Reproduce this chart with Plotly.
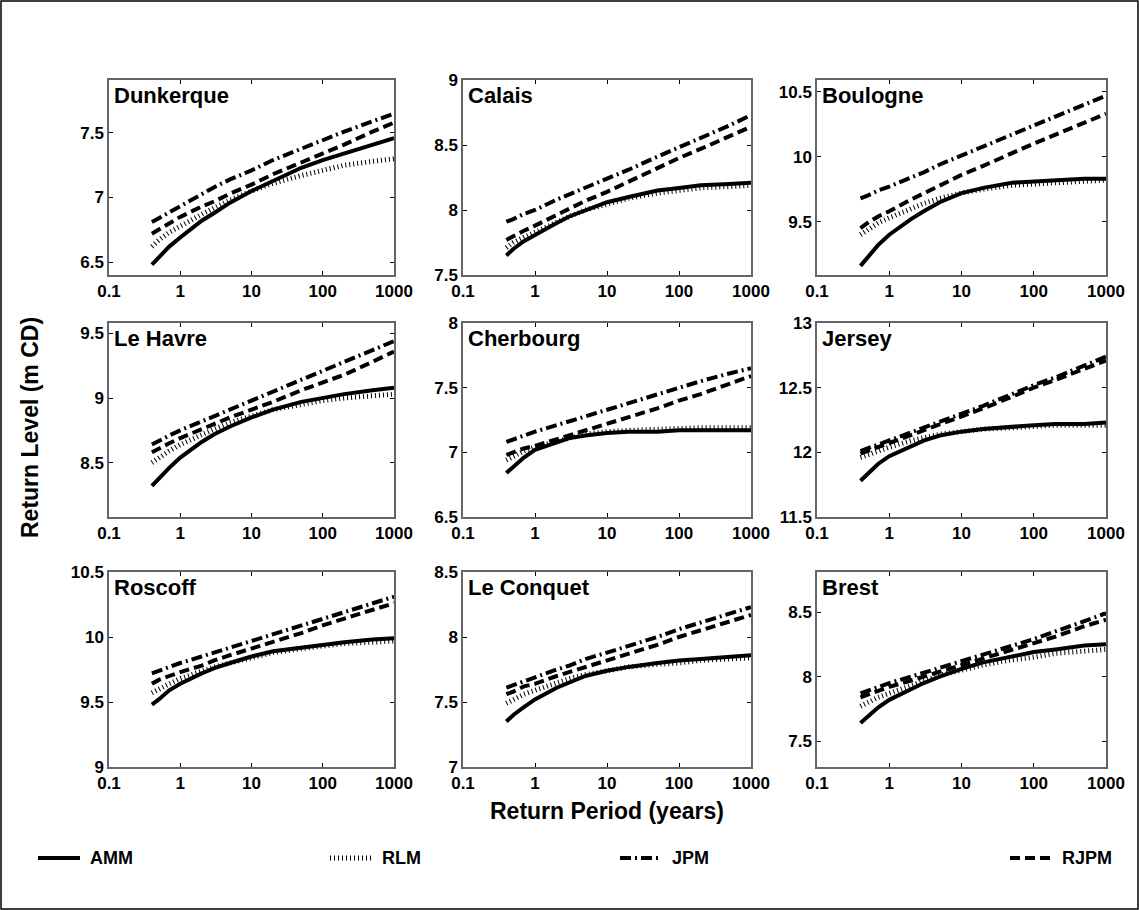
import plotly.graph_objects as go

# return periods (years) sampled along each curve
years = [0.4, 0.5, 0.7, 1, 2, 3, 5, 10, 20, 50, 100, 200, 500, 1000]

stations = ["Dunkerque", "Calais", "Boulogne",
            "Le Havre", "Cherbourg", "Jersey",
            "Roscoff", "Le Conquet", "Brest"]

y_ranges = [[6.4, 7.91], [7.5, 9.0], [9.09, 10.59],
            [8.08, 9.58], [6.5, 8.0], [11.5, 13.0],
            [9.0, 10.5], [7.0, 8.5], [7.3, 8.81]]

# one row per station, same order as `stations`
amm = [
    [6.48, 6.54, 6.62, 6.69, 6.82, 6.88, 6.96, 7.05, 7.13, 7.23, 7.29, 7.34, 7.41, 7.46],
    [7.65, 7.70, 7.76, 7.81, 7.90, 7.95, 8.00, 8.06, 8.10, 8.15, 8.17, 8.19, 8.20, 8.21],
    [9.16, 9.22, 9.32, 9.40, 9.52, 9.58, 9.65, 9.72, 9.76, 9.80, 9.81, 9.82, 9.83, 9.83],
    [8.32, 8.38, 8.46, 8.54, 8.66, 8.72, 8.78, 8.85, 8.91, 8.97, 9.00, 9.03, 9.06, 9.08],
    [6.84, 6.89, 6.96, 7.02, 7.08, 7.11, 7.13, 7.15, 7.16, 7.16, 7.17, 7.17, 7.17, 7.17],
    [11.78, 11.83, 11.91, 11.97, 12.05, 12.09, 12.13, 12.16, 12.18, 12.20, 12.21, 12.22, 12.22, 12.23],
    [9.48, 9.52, 9.59, 9.64, 9.72, 9.76, 9.80, 9.85, 9.89, 9.92, 9.94, 9.96, 9.98, 9.99],
    [7.35, 7.40, 7.46, 7.52, 7.61, 7.65, 7.70, 7.74, 7.77, 7.80, 7.82, 7.83, 7.85, 7.86],
    [7.64, 7.69, 7.76, 7.82, 7.90, 7.95, 8.00, 8.06, 8.11, 8.16, 8.19, 8.21, 8.24, 8.25],
]
rlm = [
    [6.62, 6.67, 6.73, 6.78, 6.87, 6.92, 6.98, 7.05, 7.11, 7.17, 7.21, 7.25, 7.28, 7.30],
    [7.71, 7.75, 7.79, 7.83, 7.91, 7.95, 8.00, 8.05, 8.09, 8.13, 8.15, 8.17, 8.18, 8.19],
    [9.40, 9.44, 9.49, 9.53, 9.60, 9.64, 9.68, 9.72, 9.75, 9.78, 9.79, 9.80, 9.81, 9.82],
    [8.50, 8.54, 8.59, 8.64, 8.72, 8.76, 8.81, 8.86, 8.91, 8.95, 8.98, 9.00, 9.02, 9.03],
    [6.94, 6.97, 7.01, 7.04, 7.09, 7.11, 7.14, 7.16, 7.17, 7.18, 7.18, 7.19, 7.19, 7.19],
    [11.96, 11.98, 12.01, 12.04, 12.09, 12.11, 12.14, 12.16, 12.18, 12.19, 12.20, 12.21, 12.21, 12.21],
    [9.57, 9.60, 9.64, 9.68, 9.74, 9.77, 9.80, 9.84, 9.88, 9.91, 9.93, 9.95, 9.96, 9.97],
    [7.49, 7.52, 7.56, 7.59, 7.65, 7.68, 7.71, 7.74, 7.77, 7.79, 7.80, 7.82, 7.83, 7.84],
    [7.77, 7.80, 7.84, 7.87, 7.93, 7.96, 8.01, 8.05, 8.09, 8.13, 8.15, 8.18, 8.20, 8.21],
]
jpm = [
    [6.81, 6.84, 6.89, 6.94, 7.03, 7.08, 7.14, 7.21, 7.29, 7.38, 7.45, 7.51, 7.59, 7.65],
    [7.91, 7.93, 7.97, 8.00, 8.08, 8.12, 8.17, 8.24, 8.31, 8.41, 8.48, 8.55, 8.65, 8.73],
    [9.68, 9.70, 9.74, 9.77, 9.84, 9.88, 9.94, 10.01, 10.08, 10.17, 10.24, 10.31, 10.40, 10.47],
    [8.64, 8.67, 8.71, 8.75, 8.82, 8.86, 8.91, 8.98, 9.05, 9.14, 9.21, 9.28, 9.37, 9.44],
    [7.08, 7.10, 7.13, 7.16, 7.21, 7.24, 7.28, 7.33, 7.38, 7.45, 7.50, 7.55, 7.61, 7.65],
    [12.01, 12.03, 12.06, 12.09, 12.15, 12.19, 12.24, 12.30, 12.36, 12.45, 12.52, 12.58, 12.67, 12.74],
    [9.72, 9.74, 9.77, 9.80, 9.85, 9.88, 9.92, 9.97, 10.02, 10.09, 10.14, 10.19, 10.26, 10.31],
    [7.61, 7.63, 7.66, 7.69, 7.75, 7.78, 7.83, 7.88, 7.93, 8.00, 8.06, 8.11, 8.18, 8.23],
    [7.87, 7.89, 7.92, 7.95, 8.00, 8.03, 8.07, 8.12, 8.17, 8.24, 8.29, 8.35, 8.43, 8.49],
]
rjpm = [
    [6.72, 6.75, 6.80, 6.85, 6.93, 6.97, 7.03, 7.10, 7.18, 7.27, 7.34, 7.41, 7.51, 7.58],
    [7.77, 7.80, 7.84, 7.88, 7.96, 8.01, 8.07, 8.14, 8.22, 8.32, 8.40, 8.47, 8.57, 8.64],
    [9.45, 9.49, 9.54, 9.58, 9.67, 9.72, 9.78, 9.86, 9.93, 10.03, 10.10, 10.17, 10.26, 10.33],
    [8.58, 8.61, 8.65, 8.69, 8.76, 8.80, 8.85, 8.91, 8.97, 9.06, 9.12, 9.18, 9.28, 9.36],
    [6.98, 7.00, 7.03, 7.05, 7.10, 7.13, 7.17, 7.22, 7.27, 7.34, 7.40, 7.45, 7.53, 7.59],
    [11.99, 12.01, 12.04, 12.07, 12.13, 12.17, 12.22, 12.28, 12.34, 12.43, 12.50, 12.56, 12.65, 12.71],
    [9.64, 9.67, 9.70, 9.73, 9.78, 9.82, 9.86, 9.91, 9.96, 10.03, 10.09, 10.14, 10.21, 10.26],
    [7.56, 7.58, 7.62, 7.64, 7.70, 7.73, 7.77, 7.82, 7.87, 7.94, 8.00, 8.05, 8.12, 8.17],
    [7.84, 7.86, 7.89, 7.92, 7.97, 8.00, 8.04, 8.09, 8.14, 8.21, 8.26, 8.31, 8.39, 8.44],
]

x_ticks = [0.1, 1, 10, 100, 1000]
x_ticktext = ["0.1", "1", "10", "100", "1000"]

W, H = 1139, 910
FONT = "Liberation Sans, Arial, sans-serif"

# pixel boxes of the panels (left/right, top/bottom)
col_px = [(109, 394), (463, 751), (817, 1106)]
row_px = [(80, 275), (323, 517), (572, 767)]

styles = {
    "AMM": dict(color="black", width=4, dash="solid"),
    "RLM": dict(color="black", width=5, dash="1px,3px"),
    "JPM": dict(color="black", width=4, dash="11px,4px,2px,4px"),
    "RJPM": dict(color="black", width=4, dash="10px,5px"),
}
series = [("RLM", rlm), ("AMM", amm), ("RJPM", rjpm), ("JPM", jpm)]

fig = go.Figure()
annotations = []

for i, name in enumerate(stations):
    r, c = divmod(i, 3)
    n = "" if i == 0 else str(i + 1)
    xd = [col_px[c][0] / W, col_px[c][1] / W]
    yd = [1 - row_px[r][1] / H, 1 - row_px[r][0] / H]

    for label, data in series:
        fig.add_trace(go.Scatter(
            x=years, y=data[i], mode="lines", name=label,
            line=styles[label], showlegend=False,
            xaxis="x" + n, yaxis="y" + n,
        ))

    common = dict(
        ticks="inside", ticklen=4, tickcolor="black", mirror="ticks",
        showline=True, linecolor="#666", linewidth=1.5,
        showgrid=False, zeroline=False, automargin=False,
        tickfont=dict(family=FONT, size=17, color="black", weight="bold"),
    )
    fig.layout["xaxis" + n] = dict(
        type="log", range=[-1, 3], domain=xd, anchor="y" + n,
        tickvals=x_ticks, ticktext=x_ticktext, **common,
    )
    fig.layout["yaxis" + n] = dict(
        range=y_ranges[i], domain=yd, anchor="x" + n,
        tick0=0, dtick=0.5, **common,
    )
    annotations.append(dict(
        text=name, xref="x" + n + " domain", yref="y" + n + " domain",
        x=0.01, y=0.995, xanchor="left", yanchor="top", showarrow=False,
        font=dict(family=FONT, size=22, color="black", weight="bold"),
    ))

# axis titles
annotations.append(dict(
    text="Return Level (m CD)", xref="paper", yref="paper",
    x=30 / W, y=1 - 428 / H, xanchor="center", yanchor="middle",
    textangle=-90, showarrow=False,
    font=dict(family=FONT, size=23, color="black", weight="bold"),
))
annotations.append(dict(
    text="Return Period (years)", xref="paper", yref="paper",
    x=607 / W, y=1 - 811 / H, xanchor="center", yanchor="middle",
    showarrow=False,
    font=dict(family=FONT, size=23, color="black", weight="bold"),
))

# legend drawn along the bottom
shapes = []
legend_pos = [("AMM", 38), ("RLM", 330), ("JPM", 620), ("RJPM", 1010)]
ly = 1 - 858 / H
for label, x0 in legend_pos:
    st = styles[label]
    shapes.append(dict(
        type="line", xref="paper", yref="paper",
        x0=x0 / W, x1=(x0 + 42) / W, y0=ly, y1=ly,
        line=dict(color="black", width=st["width"], dash=st["dash"]),
    ))
    annotations.append(dict(
        text=label, xref="paper", yref="paper",
        x=(x0 + 50) / W, y=ly, xanchor="left", yanchor="middle",
        showarrow=False,
        font=dict(family=FONT, size=18, color="black", weight="bold"),
    ))

# outer frame
shapes.append(dict(
    type="rect", xref="paper", yref="paper",
    x0=1 / W, x1=1 - 1 / W, y0=1 / H, y1=1 - 1 / H,
    line=dict(color="black", width=1.5),
))

fig.update_layout(
    template="none",
    width=W, height=H,
    margin=dict(l=0, r=0, t=0, b=0, pad=0),
    paper_bgcolor="white", plot_bgcolor="white",
    annotations=annotations, shapes=shapes,
    showlegend=False,
)

fig.write_html("out.html", config={"displayModeBar": False},
               post_script="document.body.style.margin='0px';")
